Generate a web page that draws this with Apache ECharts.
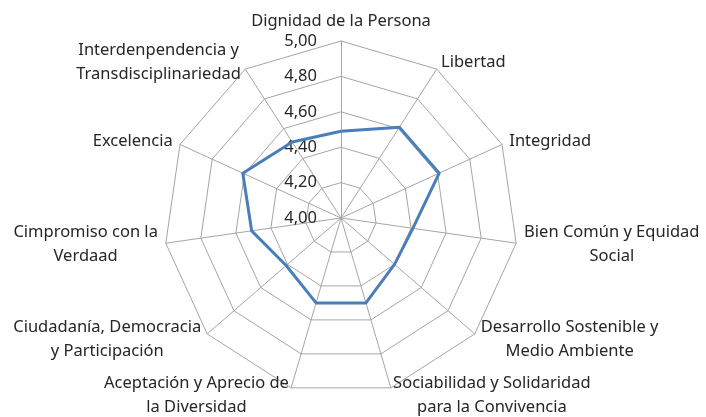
<!DOCTYPE html>
<html>
<head>
<meta charset="utf-8">
<script src="https://cdn.jsdelivr.net/npm/echarts@6/dist/echarts.min.js"></script>
<style>
  html, body { margin: 0; padding: 0; background: #fff; }
  #chart { width: 706px; height: 417px; }
</style>
</head>
<body>
<div id="chart"></div>
<script>
// ejes del radar, en orden horario empezando arriba
const categories = [
  'Dignidad de la Persona',
  'Libertad',
  'Integridad',
  'Bien Común y Equidad\nSocial',
  'Desarrollo Sostenible y\nMedio Ambiente',
  'Sociabilidad y Solidaridad\npara la Convivencia',
  'Aceptación y Aprecio de\nla Diversidad',
  'Ciudadanía, Democracia\ny Participación',
  'Cimpromiso con la\nVerdaad',
  'Excelencia',
  'Interdenpendencia y\nTransdisciplinariedad'
];
const values = [4.49, 4.61, 4.61, 4.41, 4.40, 4.50, 4.50, 4.41, 4.51, 4.61, 4.51];
const ticks = [4.00, 4.20, 4.40, 4.60, 4.80, 5.00];

const fmt = v => v.toFixed(2).replace('.', ',');

// echarts pone los ejes en sentido antihorario, asi que invertimos (dejando el primero)
const order = [0].concat(categories.map((_, i) => i).slice(1).reverse());

const cx = 341, cy = 218, radius = 177;
const gray = '#a6a6a6';
const font = '"Noto Sans", sans-serif';

const myChart = echarts.init(document.getElementById('chart'));
const option = {
  backgroundColor: '#fff',
  animation: false,
  radar: {
    center: [cx, cy],
    radius: radius,
    startAngle: 90,
    shape: 'polygon',
    splitNumber: ticks.length - 1,
    nameGap: 8,
    indicator: order.map(i => ({ name: categories[i], min: ticks[0], max: ticks[ticks.length - 1] })),
    axisName: {
      color: '#262626',
      fontFamily: font,
      fontSize: 16.5,
      formatter: name => name.split('\n').map(s => '{c|' + s + '}').join('\n'),
      rich: {
        c: { align: 'center', color: '#262626', fontFamily: font, fontSize: 16.5, lineHeight: 24 }
      }
    },
    axisLine: { lineStyle: { color: gray, width: 1 } },
    splitLine: { lineStyle: { color: gray, width: 1 } },
    splitArea: { show: false },
    axisTick: { show: false },
    axisLabel: { show: false }
  },
  // eje vertical solo para las etiquetas 4,00 ... 5,00
  grid: { left: cx, top: cy - radius, height: radius, width: 10 },
  xAxis: { type: 'value', show: false },
  yAxis: {
    type: 'value',
    min: ticks[0],
    max: ticks[ticks.length - 1],
    interval: 0.2,
    axisLine: { show: false },
    axisTick: { show: false },
    splitLine: { show: false },
    axisLabel: {
      margin: 24,
      formatter: fmt,
      color: '#262626',
      fontFamily: font,
      fontSize: 16.5
    }
  },
  series: [{
    type: 'radar',
    symbol: 'none',
    lineStyle: { color: '#4A7EBB', width: 3 },
    data: [{ value: order.map(i => values[i]) }]
  }]
};
myChart.setOption(option);
</script>
</body>
</html>
